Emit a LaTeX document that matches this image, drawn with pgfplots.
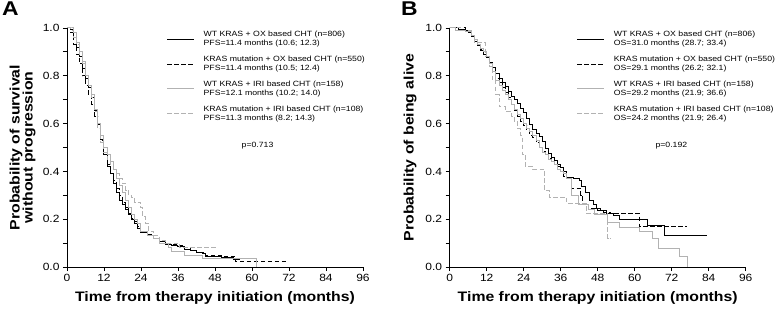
\documentclass[border=0pt]{standalone}
\usepackage{fontspec}
\setmainfont[FakeStretch=1.15]{Liberation Sans}
\usepackage{pgfplots}
\pgfplotsset{compat=1.18}
\definecolor{lg}{gray}{0.70}

\pgfplotsset{kmaxis/.style={
  scale only axis, width=296bp, height=239bp,
  xmin=0,xmax=96,ymin=0,ymax=1,
  axis x line=bottom, axis y line=left,
  axis line style={-, line width=0.8bp},
  xtick={0,12,24,36,48,60,72,84,96},
  ytick={0,0.2,0.4,0.6,0.8,1}, minor ytick={0.1,0.3,0.5,0.7,0.9},
  tick align=outside, major tick length=4bp, minor tick length=4bp,
  every tick/.style={line width=0.8bp, black},
  every minor tick/.style={line width=0.8bp, black},
  ticklabel style={font=\fontsize{10.5}{12}\selectfont},
  /pgf/number format/assume math mode=true,
  yticklabel style={/pgf/number format/.cd, fixed, fixed zerofill, precision=1},
  xlabel={Time from therapy initiation (months)},
  xlabel style={font=\bfseries\fontsize{13.8}{16}\selectfont, at={(axis description cs:0.5,-0.146)}, anchor=base},
  ylabel style={font=\bfseries\fontsize{13.8}{13}\selectfont, align=center, anchor=center},
  clip=false,
  legend cell align=left,
  legend style={draw=none, fill=none, font=\fontsize{7.6}{9}\selectfont, cells={align=left, anchor=west}, row sep=4.8bp, column sep=7bp, inner sep=0pt},
  legend image code/.code={\draw[#1] (0bp,0bp) -- (27bp,0bp);},
  km1/.style={const plot, black, line width=1bp},
  km2/.style={const plot, black, line width=1bp, dash pattern=on 4.5bp off 2.5bp},
  km3/.style={const plot, lg, line width=1bp},
  km4/.style={const plot, lg, line width=1bp, dash pattern=on 4.5bp off 2.5bp},
}}

\begin{document}
\begin{tikzpicture}
\path[use as bounding box] (0,0) rectangle (778bp,310bp);
\node[anchor=north west, inner sep=0, font=\bfseries\fontsize{20}{24}\selectfont] at (2bp,308bp) {A};
\node[anchor=north west, inner sep=0, font=\bfseries\fontsize{20}{24}\selectfont] at (401bp,308bp) {B};

% ---------------- Panel A ----------------
\begin{axis}[kmaxis, at={(67bp,43bp)}, anchor=south west,
  ylabel={Probability of survival\\without progression},
  ylabel style={at={(axis description cs:-0.150,0.5)}},
  legend style={at={(rel axis cs:0.336,0.995)}, anchor=north west}]
\addplot[km1] coordinates {(0,1) (1,0.995) (2,0.96) (3,0.92) (4,0.88) (5,0.83) (6,0.79) (7,0.75) (8,0.71) (9,0.655) (10,0.595) (11,0.535) (12,0.47) (13,0.42) (14,0.39) (15,0.35) (16,0.31) (17,0.28) (18,0.26) (19,0.24) (20,0.22) (21,0.20) (22,0.18) (23,0.16) (24,0.145) (26,0.13) (28,0.12) (30,0.105) (32,0.095) (34,0.09) (36,0.085) (38,0.075) (40,0.07) (42,0.06) (44,0.055) (45,0.045) (50,0.04) (54,0.03) (56,0.03)};
\addlegendentry{WT KRAS + OX based CHT (n=806)\\PFS=11.4 months (10.6; 12.3)}
\addplot[km2] coordinates {(0,1) (1,0.98) (2,0.93) (3,0.89) (4,0.85) (5,0.80) (6,0.76) (7,0.72) (8,0.68) (9,0.63) (10,0.58) (11,0.53) (12,0.47) (13,0.43) (14,0.39) (15,0.36) (16,0.33) (17,0.30) (18,0.27) (19,0.25) (20,0.225) (21,0.205) (22,0.19) (23,0.17) (24,0.15) (26,0.135) (28,0.12) (30,0.11) (32,0.10) (34,0.095) (36,0.09) (38,0.08) (40,0.07) (42,0.06) (45,0.05) (50,0.045) (54.6,0.025) (71.5,0.025)};
\addlegendentry{KRAS mutation + OX based CHT (n=550)\\PFS=11.4 months (10.5; 12.4)}
\addplot[km3] coordinates {(0,1) (1,1) (2,0.98) (3,0.94) (4,0.90) (5,0.85) (6,0.80) (7,0.76) (8,0.72) (9,0.66) (10,0.60) (11,0.55) (12,0.50) (13,0.47) (14,0.44) (15,0.41) (16,0.37) (17,0.34) (18,0.31) (19,0.28) (20,0.25) (21,0.22) (22,0.20) (23,0.18) (24,0.15) (26,0.13) (28,0.12) (30,0.10) (33,0.08) (34,0.065) (38,0.05) (44,0.035) (61.5,0)};
\addlegendentry{WT KRAS + IRI based CHT (n=158)\\PFS=12.1 months (10.2; 14.0)}
\addplot[km4] coordinates {(0,1) (1,0.99) (2,0.96) (3,0.93) (4,0.89) (5,0.86) (6,0.80) (7,0.76) (8,0.71) (9,0.65) (10,0.58) (11,0.52) (12,0.48) (13,0.45) (14,0.43) (15,0.41) (16,0.39) (17,0.37) (18,0.35) (19,0.32) (20,0.30) (21,0.29) (22,0.27) (24,0.25) (24.5,0.21) (25.5,0.18) (26.5,0.15) (28,0.13) (30,0.11) (32,0.10) (36.5,0.08) (49,0.08)};
\addlegendentry{KRAS mutation + IRI based CHT (n=108)\\PFS=11.3 months (8.2; 14.3)}
\node[font=\fontsize{7.6}{9}\selectfont] at (axis cs:61.8,0.508) {p=0.713};
\end{axis}

% ---------------- Panel B ----------------
\begin{axis}[kmaxis, at={(449.7bp,43bp)}, anchor=south west,
  ylabel={Probability of being alive},
  ylabel style={at={(axis description cs:-0.134,0.5)}},
  legend style={at={(rel axis cs:0.429,0.995)}, anchor=north west}]
\addplot[km1] coordinates {(0,1) (3,0.995) (5,0.99) (6,0.98) (7,0.965) (8,0.945) (9,0.925) (10,0.905) (11,0.89) (12,0.875) (13,0.855) (14,0.835) (15,0.81) (16,0.79) (17,0.77) (18,0.755) (19,0.735) (20,0.715) (21,0.70) (22,0.685) (23,0.665) (24,0.645) (25,0.62) (26,0.595) (27,0.575) (28,0.56) (29,0.545) (30,0.525) (31,0.495) (32,0.475) (33,0.46) (34,0.445) (35,0.43) (36,0.415) (37,0.40) (38,0.375) (40,0.37) (42.2,0.36) (42.7,0.335) (44,0.31) (45.4,0.28) (46.5,0.26) (47.5,0.245) (49,0.235) (51,0.225) (53,0.215) (55,0.20) (64.3,0.175) (69.6,0.132) (83.6,0.132)};
\addlegendentry{WT KRAS + OX based CHT (n=806)\\OS=31.0 months (28.7; 33.4)}
\addplot[km2] coordinates {(0,1) (5,0.99) (7,0.97) (8,0.95) (9,0.93) (10,0.91) (11,0.89) (12,0.87) (13,0.84) (14,0.81) (15,0.79) (16,0.77) (17,0.75) (18,0.73) (19,0.71) (20,0.68) (21,0.655) (22,0.63) (23,0.61) (24,0.59) (25,0.57) (26,0.55) (27,0.54) (28,0.52) (29,0.50) (30,0.485) (31,0.47) (32,0.455) (33,0.44) (34,0.43) (35,0.42) (36,0.40) (37,0.38) (38,0.37) (39.5,0.33) (42.5,0.30) (43,0.26) (45,0.245) (48,0.235) (50,0.23) (52,0.225) (61.4,0.17) (76.9,0.17)};
\addlegendentry{KRAS mutation + OX based CHT (n=550)\\OS=29.1 months (26.2; 32.1)}
\addplot[km3] coordinates {(0,1) (2,0.99) (5,0.985) (7,0.97) (8,0.95) (9,0.93) (10,0.915) (11,0.90) (12,0.88) (13,0.85) (14,0.82) (15,0.78) (16,0.76) (17,0.74) (18,0.72) (19,0.70) (20,0.68) (21,0.66) (22,0.64) (23,0.62) (24,0.60) (25,0.58) (26,0.565) (27,0.55) (28,0.53) (29,0.50) (30,0.48) (31,0.47) (32,0.45) (33,0.44) (34,0.43) (35,0.41) (36,0.40) (37,0.39) (38,0.37) (39.5,0.30) (41.7,0.26) (45,0.24) (47,0.22) (51.3,0.185) (55.1,0.165) (61.6,0.148) (65.9,0.12) (67.7,0.078) (74.5,0.043) (77.2,0)};
\addlegendentry{WT KRAS + IRI based CHT (n=158)\\OS=29.2 months (21.9; 36.6)}
\addplot[km4] coordinates {(0,1) (4,0.99) (7,0.97) (8,0.94) (11.5,0.88) (13,0.84) (14,0.78) (15,0.72) (16,0.67) (18,0.65) (20,0.63) (21,0.61) (22,0.58) (23,0.55) (23.5,0.47) (24.5,0.42) (27,0.41) (30.8,0.32) (32.5,0.29) (38,0.265) (44.3,0.225) (51.2,0.12) (52.4,0.12)};
\addlegendentry{KRAS mutation + IRI based CHT (n=108)\\OS=24.2 months (21.9; 26.4)}
\node[font=\fontsize{7.6}{9}\selectfont] at (axis cs:71.9,0.508) {p=0.192};
\end{axis}
\end{tikzpicture}
\end{document}
